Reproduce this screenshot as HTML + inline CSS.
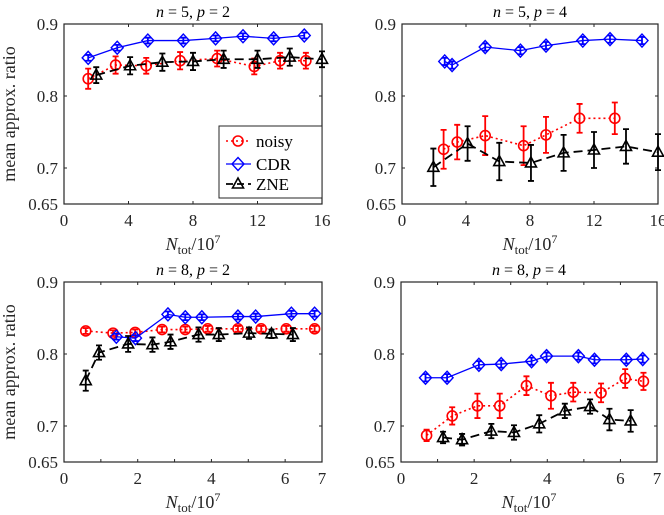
<!DOCTYPE html>
<html><head><meta charset="utf-8"><style>
html,body{margin:0;padding:0;background:#fff;}
svg{display:block;font-family:"Liberation Serif",serif;}
</style></head><body>
<svg id="s" width="664" height="515" xmlns="http://www.w3.org/2000/svg"></svg>
<script>
const S=document.getElementById('s');let h='';
const panels=[
{L:64,R:322,T:24,B:204,xmax:16,title:['5','2'],ylab:true,
cdr:[[1.5,.853],[3.3,.867],[5.2,.877],[7.4,.877],[9.4,.880],[11.1,.883],[13.0,.880],[14.9,.884]],ce:.004,
noisy:[[1.5,.824,.014],[3.2,.843,.012],[5.1,.842,.011],[7.2,.849,.012],[9.5,.852,.011],[11.8,.841,.011],[13.4,.849,.011],[15.0,.849,.011]],
zne:[[2,.829,.011],[4.1,.842,.012],[6.1,.847,.012],[8,.848,.012],[9.9,.851,.012],[12,.851,.012],[14,.854,.012],[16,.851,.011]],legend:true},
{L:402,R:658,T:24,B:204,xmax:16,title:['5','4'],
cdr:[[2.67,.848],[3.13,.843],[5.2,.868],[7.4,.863],[9.0,.870],[11.3,.877],[13.0,.879],[15.0,.877]],ce:.005,
noisy:[[2.6,.726,.027],[3.45,.736,.024],[5.2,.745,.027],[7.6,.731,.027],[9.0,.746,.025],[11.1,.769,.02],[13.3,.769,.022]],
zne:[[1.96,.701,.026],[4.1,.734,.024],[6.08,.709,.026],[8.06,.707,.025],[10.1,.721,.025],[12.0,.725,.025],[14.0,.730,.024],[16.0,.722,.025]]},
{L:64,R:322,T:282,B:462,xmax:7,title:['8','2'],ylab:true,
cdr:[[1.42,.824],[1.94,.822],[2.82,.855],[3.29,.851],[3.74,.851],[4.72,.852],[5.2,.852],[6.17,.856],[6.8,.856]],ce:.004,
noisy:[[0.59,.832,.004],[1.33,.829,.004],[1.93,.830,.004],[2.66,.834,.004],[3.29,.834,.004],[3.9,.835,.004],[4.72,.835,.004],[5.35,.835,.004],[6.03,.835,.004],[6.8,.835,.004]],
zne:[[0.59,.763,.014],[0.95,.802,.01],[1.74,.814,.011],[2.4,.813,.01],[2.89,.817,.01],[3.65,.827,.01],[4.2,.827,.009],[5.02,.829,.008],[5.63,.828,.006],[6.21,.827,.009]]},
{L:401,R:657,T:282,B:462,xmax:7,title:['8','4'],
cdr:[[.67,.767],[1.26,.767],[2.13,.785],[2.74,.786],[3.57,.79],[3.98,.797],[4.85,.797],[5.29,.792],[6.16,.792],[6.61,.793]],ce:.005,
noisy:[[.7,.687,.008],[1.4,.714,.012],[2.09,.728,.017],[2.7,.728,.017],[3.43,.756,.013],[4.1,.742,.018],[4.71,.747,.013],[5.47,.746,.013],[6.13,.766,.013],[6.63,.762,.012]],
zne:[[1.15,.684,.008],[1.67,.681,.008],[2.47,.693,.01],[3.09,.691,.01],[3.78,.703,.012],[4.48,.721,.01],[5.17,.727,.01],[5.7,.709,.015],[6.28,.707,.015]]}
];
function circ(x,y){return `<circle cx="${x}" cy="${y}" r="5" fill="none" stroke="#f00" stroke-width="1.6"/>`;}
function dia(x,y){return `<path d="M${x} ${y-6.5}L${x+6} ${y}L${x} ${y+6.5}L${x-6} ${y}Z" fill="none" stroke="#00f" stroke-width="1.4"/>`;}
function tri(x,y){return `<path d="M${x} ${y-6}L${x+5.5} ${y+4}L${x-5.5} ${y+4}Z" fill="none" stroke="#000" stroke-width="1.6"/>`;}
function eb(x,y1,y2,c){return `<path d="M${x} ${y1}V${y2}M${x-3} ${y1}H${x+3}M${x-3} ${y2}H${x+3}" stroke="${c}" stroke-width="1.8" fill="none"/>`;}
panels.forEach(p=>{
 const X=v=>p.L+v/p.xmax*(p.R-p.L), Y=v=>p.B-(v-0.65)/0.25*(p.B-p.T);
 h+=`<rect x="${p.L}" y="${p.T}" width="${p.R-p.L}" height="${p.B-p.T}" fill="#fff" stroke="#262626" stroke-width="1.2"/>`;
 [0.65,0.7,0.8,0.9].forEach(v=>{const y=Y(v);
  h+=`<path d="M${p.L} ${y}h3M${p.R} ${y}h-3" stroke="#262626"/>`;
  h+=`<text x="${p.L-6}" y="${y+6}" font-size="17" text-anchor="end" fill="#262626">${v==0.7?'0.7':v==0.8?'0.8':v==0.9?'0.9':'0.65'}</text>`;});
 const xt=p.xmax==16?[0,4,8,12,16]:[0,1,2,3,4,5,6,7];
 xt.forEach(v=>{const x=X(v);h+=`<path d="M${x} ${p.B}v-3M${x} ${p.T}v3" stroke="#262626"/>`;
  if(p.xmax==16||v%2==0||v==7)h+=`<text x="${x}" y="${p.B+22}" font-size="17" text-anchor="middle" fill="#262626">${v}</text>`;});
 const cx=(p.L+p.R)/2;
 h+=`<text x="${cx}" y="${p.T-7}" font-size="16" text-anchor="middle" fill="#000"><tspan font-style="italic">n</tspan> = ${p.title[0]}, <tspan font-style="italic">p</tspan> = ${p.title[1]}</text>`;
 h+=`<text x="${cx}" y="${p.B+46}" font-size="18" text-anchor="middle" fill="#262626"><tspan font-style="italic">N</tspan><tspan font-size="13" dy="4">tot</tspan><tspan dy="-4">/10</tspan><tspan font-size="12" dy="-7">7</tspan></text>`;
 if(p.ylab)h+=`<text transform="translate(${p.L-49},${(p.T+p.B)/2}) rotate(-90)" font-size="18" text-anchor="middle" fill="#262626">mean approx. ratio</text>`;
 h+=`<polyline points="${p.noisy.map(d=>X(d[0])+','+Y(d[1])).join(' ')}" fill="none" stroke="#f00" stroke-width="1.6" stroke-dasharray="2,3"/>`;
 p.noisy.forEach(d=>{h+=eb(X(d[0]),Y(d[1]-d[2]),Y(d[1]+d[2]),'#f00')+circ(X(d[0]),Y(d[1]));});
 h+=`<polyline points="${p.cdr.map(d=>X(d[0])+','+Y(d[1])).join(' ')}" fill="none" stroke="#00f" stroke-width="1.3"/>`;
 p.cdr.forEach(d=>{h+=eb(X(d[0]),Y(d[1]-p.ce),Y(d[1]+p.ce),'#00f')+dia(X(d[0]),Y(d[1]));});
 h+=`<polyline points="${p.zne.map(d=>X(d[0])+','+Y(d[1])).join(' ')}" fill="none" stroke="#000" stroke-width="1.8" stroke-dasharray="9,5"/>`;
 p.zne.forEach(d=>{h+=eb(X(d[0]),Y(d[1]-d[2]),Y(d[1]+d[2]),'#000')+tri(X(d[0]),Y(d[1]));});
 if(p.legend){
  h+=`<rect x="219" y="126" width="103" height="72" fill="#fff" stroke="#262626"/>`;
  h+=`<path d="M226 141H251" stroke="#f00" stroke-width="1.6" stroke-dasharray="2,3"/>`+circ(238,141);
  h+=`<path d="M226 164H251" stroke="#00f" stroke-width="1.3"/>`+dia(238,164);
  h+=`<path d="M226 184H251" stroke="#000" stroke-width="1.8" stroke-dasharray="7,4"/>`+tri(238,184);
  h+=`<text x="256" y="147" font-size="17" fill="#000">noisy</text><text x="256" y="170" font-size="17" fill="#000">CDR</text><text x="256" y="190" font-size="17" fill="#000">ZNE</text>`;
 }
});
S.innerHTML=h;
</script>
</body></html>
